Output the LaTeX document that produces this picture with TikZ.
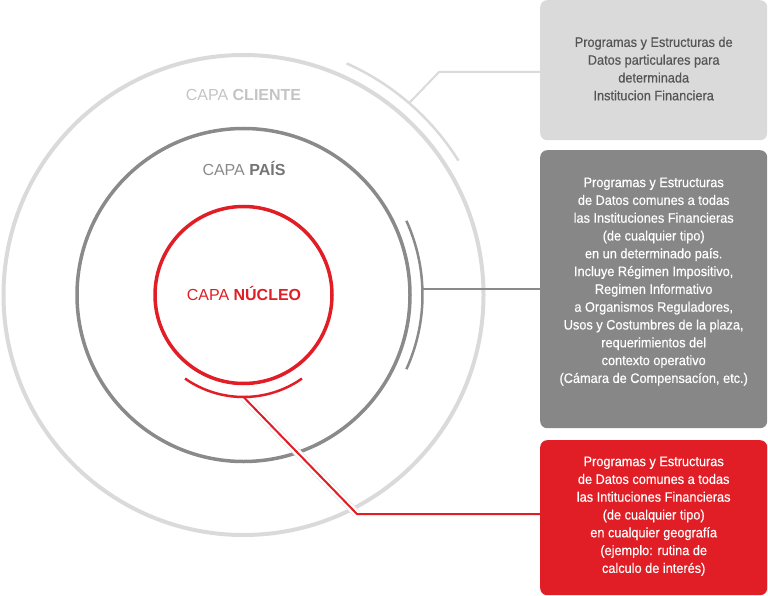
\documentclass[tikz,border=0pt]{standalone}
\usepackage{fontspec}
\setmainfont{Liberation Sans}
\newfontfamily\cajafont[FakeStretch=0.93,FakeBold=0.4]{Liberation Sans}
\usetikzlibrary{positioning}
\definecolor{capaclara}{HTML}{DADADA}
\definecolor{capagris}{HTML}{8A8A8A}
\definecolor{caparoja}{HTML}{E11E26}
\definecolor{textoclaro}{HTML}{C4C4C4}
\definecolor{textogris}{HTML}{555555}
\definecolor{cajagris}{HTML}{878787}
\tikzset{
  ring/.style={line width=3.5pt},
  arco/.style={line width=2.5pt},
  conector/.style={line width=2pt},
  capalabel/.style={anchor=base, font=\fontsize{16}{18}\selectfont},
  cajabox/.style={rounded corners=7pt, anchor=north west, minimum width=227pt, inner sep=0pt},
  cajatexto/.style={align=center, inner sep=0pt, font=\cajafont\fontsize{13.7}{17.8}\selectfont}
}
\begin{document}
\begin{tikzpicture}[x=1pt,y=-1pt]
\useasboundingbox (0,0) rectangle (768,596);
\coordinate (centro) at (243.5,295);
% rings
\begin{scope}[shift={(centro)}]
\draw[ring, line width=4pt, capaclara] (0,0) circle[radius=240];
\draw[ring, capagris] (0,0) circle[radius=166.5];
\draw[ring, caparoja] (0,0) circle[radius=88.5];
\coordinate (puntocliente) at (-49.2:254);
\coordinate (puntopais) at (-2:179);
\coordinate (puntonucleo) at (90:102);
\end{scope}
\coordinate (codocliente) at (439,72);
\coordinate (codonucleo) at (357,514);
% white band over the rings
\draw[line width=8pt, black!9] (puntonucleo) -- (codonucleo);
\draw[line width=6.5pt, white] (puntonucleo) -- (codonucleo);
% arcs
\begin{scope}[shift={(centro)}]
\draw[arco, capaclara] (-66:253.5) arc[start angle=-66, end angle=-32, radius=253.5];
\draw[arco, capagris] (-24.5:179) arc[start angle=-24.5, end angle=24.5, radius=179];
\draw[arco, caparoja] (55:102) arc[start angle=55, end angle=125, radius=102];
\end{scope}
% labels
\node[capalabel, text=textoclaro] (cliente) at (243.5,100.8) {CAPA \textbf{CLIENTE}};
\node[capalabel, text=capagris] (pais) at (244,175.8) {CAPA \textbf{\color{capagris!85!black}PAÍS}};
\node[capalabel, text=caparoja] (nucleo) at (244,300.8) {CAPA \textbf{NÚCLEO}};
% boxes
\node[cajabox, fill=capaclara, minimum height=140pt] (cajacliente) at (540,0) {};
\node[cajabox, fill=cajagris, minimum height=278pt] (cajapais) at (540,150) {};
\node[cajabox, fill=caparoja, minimum height=155pt] (cajanucleo) at (540,440) {};
\node[cajatexto, text=textogris] (textocliente) at ([yshift=1.5pt]cajacliente.center)
  {Programas y Estructuras de\\Datos particulares para\\determinada\\Institucion Financiera};
\node[cajatexto, text=white] (textopais) at ([yshift=7.5pt]cajapais.center)
  {Programas y Estructuras\\de Datos comunes a todas\\las Instituciones Financieras\\(de cualquier tipo)\\en un determinado país.\\Incluye Régimen Impositivo,\\Regimen Informativo\\a Organismos Reguladores,\\Usos y Costumbres de la plaza,\\requerimientos del\\contexto operativo\\(Cámara de Compensacíon, etc.)};
\node[cajatexto, text=white] (textonucleo) at ([yshift=1.5pt]cajanucleo.center)
  {Programas y Estructuras\\de Datos comunes a todas\\las Intituciones Financieras\\(de cualquier tipo)\\en cualquier geografía\\(ejemplo: rutina de\\calculo de interés)};
% connectors
\draw[conector, capaclara] (puntocliente) -- (codocliente) -- (codocliente -| cajacliente.west);
\draw[conector, capagris] (puntopais) -- (puntopais -| cajapais.west);
\draw[conector, caparoja] (puntonucleo) -- (codonucleo) -- (codonucleo -| cajanucleo.west);
\end{tikzpicture}
\end{document}
